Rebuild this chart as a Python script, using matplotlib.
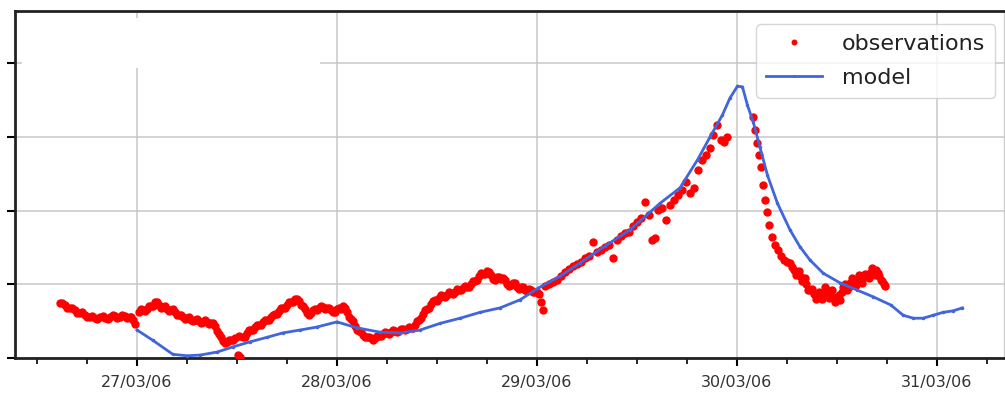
import datetime as dt
import matplotlib
matplotlib.use("Agg")
import matplotlib.pyplot as plt
import matplotlib.dates as mdates
from matplotlib.patches import Rectangle

# Time origin for the hour offsets below
t0 = dt.datetime(2006, 3, 27, 0, 0)

# Observed series: hours since t0, value
obs_hours = [
    -9.25, -8.65, -8.05, -7.45, -6.85, -6.25, -5.65, -5.05, -4.44, -3.84,
    -3.24, -2.64, -2.04, -1.44, -0.84, -0.48, -0.24, 0.24, 0.72, 1.20,
    1.68, 2.16, 2.64, 3.12, 3.60, 4.08, 4.56, 5.04, 5.52, 6.00,
    6.49, 6.97, 7.45, 7.93, 8.41, 8.89, 9.37, 9.85, 10.33, 10.81,
    11.29, 11.77, 12.13, 12.37, 12.73, 13.21, 13.69, 14.17, 14.65, 15.13,
    15.61, 16.09, 16.57, 17.05, 17.53, 18.02, 18.50, 18.98, 19.46, 19.94,
    20.42, 20.90, 21.38, 21.86, 22.34, 22.82, 23.30, 23.78, 24.26, 24.74,
    25.22, 25.70, 26.18, 26.66, 27.14, 27.62, 28.10, 28.58, 29.06, 29.54,
    30.03, 30.51, 30.99, 31.47, 31.95, 32.43, 32.91, 33.39, 33.87, 34.35,
    34.83, 35.31, 35.79, 36.27, 36.75, 37.23, 37.71, 38.19, 38.67, 39.15,
    39.63, 40.11, 40.59, 41.07, 41.55, 42.04, 42.52, 43.00, 43.48, 43.96,
    44.44, 44.92, 45.40, 45.88, 46.36, 46.84, 47.32, 47.80, 48.28, 48.52,
    48.76, 49.00, 49.48, 49.96, 50.44, 50.92, 51.40, 51.88, 52.36, 52.84,
    53.32, 53.80, 54.28, 54.77, 55.25, 55.73, 56.21, 56.69, 57.17, 57.65,
    58.13, 58.61, 59.09, 59.57, 60.05, 60.53, 61.01, 61.49, 61.85, 62.21,
    62.57, 63.05, 63.53, 64.01, 64.49, 64.97, 65.45, 65.93, 66.42, 66.90,
    67.38, 67.86, 68.34, 68.82, 69.18, 69.66, 70.14, 70.50, 70.86, 73.98,
    74.22, 74.46, 74.70, 74.94, 75.18, 75.42, 75.66, 75.90, 76.26, 76.62,
    76.98, 77.35, 77.71, 78.07, 78.43, 78.91, 79.27, 79.63, 79.99, 80.35,
    80.83, 81.31, 81.67, 82.03, 82.39, 82.87, 83.23, 83.59, 84.07, 84.43,
    84.79, 85.27, 85.63, 86.11, 86.47, 86.83, 87.19, 87.67, 88.03, 88.39,
    88.75, 89.11, 89.47, 89.83,
    # intermediate samples
    -8.95, -8.35, -7.75, -7.15, -6.55, -5.95, -5.35, -4.75, -4.14, -3.54,
    -2.94, -2.34, -1.74, -1.14, -0.66, 0.48, 0.96, 1.44, 1.92, 2.40,
    2.88, 3.36, 3.84, 4.32, 4.80, 5.28, 5.76, 6.24, 6.73, 7.21,
    7.69, 8.17, 8.65, 9.13, 9.61, 10.09, 10.57, 11.05, 11.53, 12.25,
    12.97, 13.45, 13.93, 14.41, 14.89, 15.37, 15.85, 16.33, 16.81, 17.29,
    17.77, 18.26, 18.74, 19.22, 19.70, 20.18, 20.66, 21.14, 21.62, 22.10,
    22.58, 23.06, 23.54, 24.02, 24.50, 24.98, 25.46, 25.94, 26.42, 26.90,
    27.38, 27.86, 28.34, 28.82, 29.30, 29.79, 30.27, 30.75, 31.23, 31.71,
    32.19, 32.67, 33.15, 33.63, 34.11, 34.59, 35.07, 35.55, 36.03, 36.51,
    36.99, 37.47, 37.95, 38.43, 38.91, 39.39, 39.87, 40.35, 40.83, 41.31,
    41.79, 42.28, 42.76, 43.24, 43.72, 44.20, 44.68, 45.16, 45.64, 46.12,
    46.60, 47.08, 47.56, 48.04,
    78.67, 79.09, 79.45, 79.81, 80.17, 80.59, 81.07, 81.49, 81.85, 82.21,
    82.63, 83.05, 83.41, 83.83, 84.25, 84.61, 85.03, 85.45, 85.87, 86.29,
    86.65, 87.01, 87.43, 87.85, 88.21, 88.57, 88.93, 89.29, 89.65,
]
obs_values = [
    74.6, 71.9, 67.9, 65.1, 61.1, 58.4, 55.6, 54.3, 55.6, 54.3,
    55.6, 57.0, 55.6, 57.0, 55.6, 51.6, 46.1, 62.4, 65.1, 66.5,
    70.6, 76.0, 71.9, 69.2, 66.5, 65.1, 62.4, 58.4, 55.6, 54.3,
    51.6, 51.6, 50.2, 48.9, 48.9, 47.5, 43.4, 32.6, 23.1, 21.7,
    24.4, 27.1, 4.1, 1.0, 28.5, 33.9, 38.0, 42.1, 44.8, 48.9,
    51.6, 55.6, 59.7, 63.8, 67.9, 71.9, 76.0, 80.1, 77.3, 70.6,
    61.1, 61.1, 66.5, 67.9, 69.2, 67.9, 65.1, 62.4, 67.9, 70.6,
    62.4, 52.9, 43.4, 36.6, 31.2, 28.5, 27.1, 27.1, 29.9, 32.6,
    33.9, 35.3, 36.6, 36.6, 39.4, 39.4, 40.7, 44.8, 51.6, 59.7,
    66.5, 73.3, 78.7, 81.4, 84.1, 85.5, 88.2, 89.6, 92.3, 95.0,
    96.3, 100.4, 104.5, 111.3, 114.0, 118.1, 112.6, 105.8, 109.9, 108.6,
    100.4, 99.1, 101.8, 93.6, 96.3, 90.9, 92.3, 89.6, 86.8, 76.0,
    65.1, 97.7, 100.4, 103.1, 105.8, 111.3, 116.7, 120.8, 124.8, 127.6,
    130.3, 135.7, 138.4, 157.4, 143.8, 146.6, 150.6, 153.3, 135.7, 160.1,
    165.6, 169.6, 171.0, 179.1, 184.6, 190.0, 211.7, 194.1, 160.1, 162.8,
    200.8, 203.6, 187.3, 207.6, 214.4, 221.2, 228.0, 238.8, 223.9, 230.7,
    255.1, 268.7, 275.5, 285.0, 302.6, 316.2, 295.8, 293.1, 299.9, 327.0,
    309.4, 291.8, 275.5, 259.2, 234.8, 214.4, 198.1, 180.5, 164.2, 153.3,
    146.6, 138.4, 133.0, 130.3, 128.9, 119.4, 116.7, 111.3, 105.8, 100.4,
    92.3, 86.8, 82.8, 84.1, 85.5, 92.3, 86.8, 82.8, 80.1, 78.7,
    96.3, 92.3, 101.8, 103.1, 105.8, 104.5, 108.6, 111.3, 115.3, 118.1,
    119.4, 111.3, 104.5, 97.7,
    # intermediate samples
    75, 68, 68, 61, 62, 55, 57, 53, 57, 53,
    58, 54, 58, 54, 55, 66, 64, 71, 71, 76,
    68, 70, 64, 66, 58, 59, 53, 55, 50, 53,
    48, 51, 46, 47, 36, 29, 21, 25, 24, 30,
    29, 38, 38, 45, 45, 52, 52, 59, 60, 68,
    68, 76, 76, 80, 72, 67, 59, 65, 65, 70,
    67, 68, 62, 67, 67, 68, 56, 50, 38, 35,
    28, 29, 25, 30, 30, 35, 33, 38, 35, 40,
    38, 42, 41, 50, 54, 65, 68, 78, 78, 85,
    83, 89, 87, 93, 92, 98, 96, 105, 106, 115,
    114, 117, 107, 110, 107, 106, 98, 102, 96, 97,
    92, 93, 89, 90,
    124, 113, 118, 105, 108, 92, 94, 80, 90, 80,
    96, 82, 92, 76, 86, 90, 100, 96, 108, 99,
    112, 102, 114, 108, 122, 113, 116, 106, 100,
]

# Model series: hours since t0, value
model_hours = [
    0.0, 1.9, 4.3, 6.0, 7.6, 9.6, 11.5, 13.6, 15.6, 17.5,
    19.6, 21.6, 24.0, 26.4, 29.2, 31.6, 34.0, 36.4, 38.8, 41.2,
    43.6, 46.0, 48.2, 50.8, 53.2, 56.2, 59.2, 62.8, 65.2, 67.3,
    68.8, 70.3, 71.2, 72.1, 72.7, 73.3, 74.0, 74.8, 75.7, 76.9,
    78.4, 79.6, 80.8, 82.4, 84.4, 86.5, 88.4, 90.5, 92.0, 93.2,
    94.4, 95.6, 96.8, 98.0, 99.1,
]
model_values = [
    38, 24, 5, 3, 4, 8, 15, 22, 28, 34,
    38, 42, 49, 41, 35, 34, 38, 47, 54, 62,
    68, 79, 95, 111, 129, 152, 174, 210, 231, 269,
    300, 330, 353, 369, 368, 343, 320, 286, 248, 210,
    174, 151, 133, 115, 102, 92, 83, 72, 58, 54,
    54, 58, 62, 64, 68,
]

x_start_hours = -14.65
x_end_hours = 104.1
y_ticks = [0, 100, 200, 300, 400]
y_top = 471


def to_time(hours):
    return [t0 + dt.timedelta(hours=h) for h in hours]


fig = plt.figure(figsize=(10.05, 3.99), dpi=100)
ax = fig.add_axes([0.0149, 0.1028, 0.9841, 0.8696])

ax.plot(to_time(obs_hours), obs_values, linestyle="none", marker=".",
        markersize=10, color="#ff0000", label="observations", zorder=3)
ax.plot(to_time(model_hours), model_values, linestyle="-", linewidth=2,
        marker=".", markersize=3, color="#4065dc", label="model", zorder=4)

ax.set_xlim(t0 + dt.timedelta(hours=x_start_hours),
            t0 + dt.timedelta(hours=x_end_hours))
ax.set_ylim(0, y_top)

ax.xaxis.set_major_locator(mdates.DayLocator())
ax.xaxis.set_major_formatter(mdates.DateFormatter("%d/%m/%y"))
ax.xaxis.set_minor_locator(mdates.HourLocator(byhour=[0, 6, 12, 18]))
ax.set_yticks(y_ticks)
ax.set_yticklabels([])

ax.grid(True, which="major", color="#c8c8c8", linewidth=1.1)
ax.set_axisbelow(True)
ax.tick_params(axis="x", which="major", length=6, width=1.5,
               labelsize=11.5, labelcolor="#333333", pad=6)
ax.tick_params(axis="x", which="minor", length=4, width=1.2)
ax.tick_params(axis="y", which="major", length=6, width=1.5)

for side in ("left", "top", "bottom"):
    ax.spines[side].set_linewidth(2)
    ax.spines[side].set_color("#222222")
ax.spines["right"].set_linewidth(1)
ax.spines["right"].set_color("#cccccc")

# Blank header panel in the upper-left corner
ax.add_patch(Rectangle((0.007, 0.836), 0.301, 0.144, transform=ax.transAxes,
                       facecolor="white", edgecolor="none", zorder=2))

leg = ax.legend(loc="upper right", fontsize=16, frameon=True,
                borderpad=0.45, handlelength=2.5, handletextpad=0.9,
                labelspacing=0.6, markerscale=0.65, borderaxespad=0,
                bbox_to_anchor=(0.991, 0.962))
for txt in leg.get_texts():
    txt.set_color("#222222")

fig.savefig("out.png", dpi=100)
